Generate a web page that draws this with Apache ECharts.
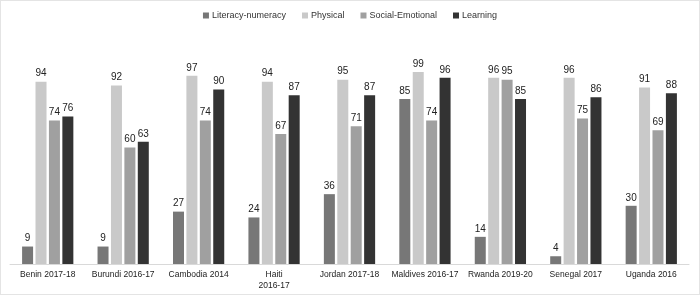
<!DOCTYPE html>
<html><head><meta charset="utf-8">
<script src="https://cdn.jsdelivr.net/npm/echarts@6/dist/echarts.min.js"></script>
<style>html,body{margin:0;padding:0;background:#fff}#c{width:698px;height:293px;border:1px solid #e4e4e4}</style>
</head><body><div id="c"></div>
<script>
const categories = ['Benin 2017-18','Burundi 2016-17','Cambodia 2014','Haiti\n2016-17','Jordan 2017-18','Maldives 2016-17','Rwanda 2019-20','Senegal 2017','Uganda 2016'];
const literacy = [9,9,27,24,36,85,14,4,30];
const physical = [94,92,97,94,95,99,96,96,91];
const social = [74,60,74,67,71,74,95,75,69];
const learning = [76,63,90,87,87,96,85,86,88];
const names = ['Literacy-numeracy','Physical','Social-Emotional','Learning'];
const colors = ['#777777','#c9c9c9','#a0a0a0','#333333'];
const all = [literacy, physical, social, learning];
const chart = echarts.init(document.getElementById('c'));
chart.setOption({
  animation:false,
  textStyle:{fontFamily:'Liberation Sans, Arial, sans-serif'},
  legend:{top:5,left:'center',itemWidth:6,itemHeight:6,itemGap:16,icon:'rect',
    textStyle:{fontSize:9,color:'#333',padding:[0,0,0,-2]}},
  grid:{left:9,right:10,top:69,bottom:30,containLabel:false},
  xAxis:{type:'category',data:categories,axisTick:{show:false},
    axisLine:{lineStyle:{color:'#d9d9d9'}},
    axisLabel:{fontSize:8.5,color:'#222',margin:5,interval:0,lineHeight:11}},
  yAxis:{type:'value',min:0,max:100,show:false,splitLine:{show:false}},
  series: all.map((d,i)=>({name:names[i],type:'bar',data:d,barWidth:11,barGap:'22%',
    itemStyle:{color:colors[i]},
    label:{show:true,position:'top',fontSize:10,color:'#222',distance:3}}))
});
</script></body></html>
